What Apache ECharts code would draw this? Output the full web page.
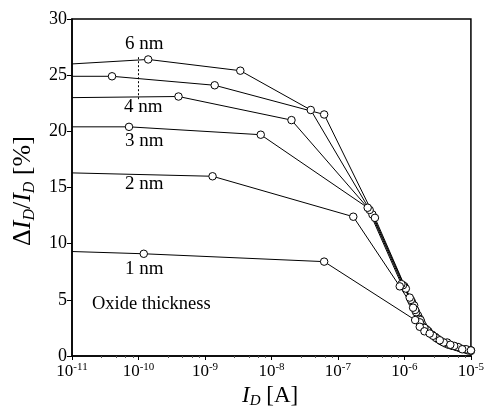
<!DOCTYPE html>
<html>
<head>
<meta charset="utf-8">
<script src="https://cdn.jsdelivr.net/npm/echarts@6/dist/echarts.min.js"></script>
<style>
  html, body { margin: 0; padding: 0; background: #fff; }
  #chart { width: 487px; height: 415px; }
</style>
</head>
<body>
<div id="chart"></div>
<script>
// oxide thickness curves, [I_D (A), dI/I (%)]
const nm6 = [[1e-11, 26.0], [1.4e-10, 26.4], [3.4e-9, 25.4], [3.9e-8, 21.9], [3.3e-7, 12.6], [1.0e-6, 6.2], [1.3e-6, 4.8], [1.6e-6, 3.6], [1.9e-6, 2.7], [2.6e-6, 1.9], [3.6e-6, 1.3], [5.2e-6, 0.9], [8.0e-6, 0.6], [1.0e-5, 0.5]];
const nm5 = [[1e-11, 24.9], [4.0e-11, 24.9], [1.4e-9, 24.1], [6.2e-8, 21.5], [3.6e-7, 12.3], [1.05e-6, 6.0], [1.4e-6, 4.5], [1.7e-6, 3.3], [2.1e-6, 2.4], [2.9e-6, 1.7], [4.2e-6, 1.1], [6.0e-6, 0.8], [9.0e-6, 0.5]];
const nm4 = [[1e-11, 23.0], [4.0e-10, 23.1], [2.0e-8, 21.0], [3.0e-7, 13.0], [9.5e-7, 6.3], [1.25e-6, 5.0], [1.5e-6, 3.9], [1.8e-6, 3.0], [2.3e-6, 2.2], [3.2e-6, 1.5], [4.6e-6, 1.0], [6.8e-6, 0.7], [1.0e-5, 0.45]];
const nm3 = [[1e-11, 20.4], [7.2e-11, 20.4], [6.9e-9, 19.7], [2.8e-7, 13.2], [9.0e-7, 6.4], [1.2e-6, 5.2], [1.45e-6, 4.1], [1.75e-6, 3.2], [2.2e-6, 2.3], [3.0e-6, 1.6], [4.4e-6, 1.2], [6.4e-6, 0.8]];
const nm2 = [[1e-11, 16.3], [1.3e-9, 16.0], [1.7e-7, 12.4], [8.5e-7, 6.2], [1.35e-6, 4.3], [1.7e-6, 3.0], [2.0e-6, 2.5], [2.7e-6, 1.8], [3.9e-6, 1.2], [5.6e-6, 0.9], [8.5e-6, 0.6]];
const nm1 = [[1e-11, 9.3], [1.2e-10, 9.1], [6.2e-8, 8.4], [1.45e-6, 3.2], [1.7e-6, 2.6], [2.0e-6, 2.2], [2.4e-6, 2.0], [3.4e-6, 1.4], [4.9e-6, 1.0], [7.4e-6, 0.6], [1.0e-5, 0.5]];
const curves = [nm6, nm5, nm4, nm3, nm2, nm1];
// dashed bracket between 4 nm and 6 nm
const bracket = [[1e-10, 26.6], [1e-10, 22.8]];
const yTicks = { min: 0, max: 30, interval: 5 };

const FONT = "Liberation Serif";

const chart = echarts.init(document.getElementById("chart"));

const lineSeries = curves.map((pts) => ({
  type: "line",
  // first point sits on the axis, no marker there
  data: pts.map((p, i) => (i === 0 ? { value: p, symbol: "none" } : p)),
  symbol: "circle",
  symbolSize: 7.5,
  showAllSymbol: true,
  lineStyle: { color: "#000", width: 1 },
  itemStyle: { color: "#fff", borderColor: "#000", borderWidth: 1 },
  z: 3,
}));

const label = (text, left, top, size) => ({
  type: "text",
  left,
  top,
  style: { text, font: size + "px " + FONT, fill: "#000" },
});

const option = {
  animation: false,
  backgroundColor: "#fff",
  grid: {
    left: 72,
    right: 13,
    top: 19,
    bottom: 59,
    show: true,
    borderColor: "#000",
    borderWidth: 1.5,
  },
  xAxis: {
    type: "log",
    logBase: 10,
    min: 1e-11,
    max: 1e-5,
    axisLine: { lineStyle: { color: "#000", width: 1.5 } },
    axisTick: { inside: false, length: 4, lineStyle: { color: "#000" } },
    minorTick: { show: true, length: 2, lineStyle: { color: "#555" } },
    splitLine: { show: false },
    axisLabel: {
      margin: 6,
      formatter: (v) => "{b|10}{e|" + Math.round(Math.log10(v)) + "}",
      rich: {
        b: { fontFamily: FONT, fontSize: 17, color: "#000" },
        e: { fontFamily: FONT, fontSize: 11, color: "#000", verticalAlign: "top", padding: [0, 0, 9, 0] },
      },
    },
  },
  yAxis: {
    type: "value",
    min: yTicks.min,
    max: yTicks.max,
    interval: yTicks.interval,
    axisLine: { show: true, lineStyle: { color: "#000", width: 1.5 } },
    axisTick: { show: true, length: 5, lineStyle: { color: "#000" } },
    splitLine: { show: false },
    axisLabel: { fontFamily: FONT, fontSize: 18, color: "#000", margin: 5 },
  },
  series: [
    ...lineSeries,
    {
      type: "line",
      data: bracket,
      symbol: "none",
      lineStyle: { color: "#000", width: 1, type: [2, 2] },
      z: 2,
    },
  ],
  graphic: [
    label("6 nm", 125, 35, 19),
    label("4 nm", 124, 98, 19),
    label("3 nm", 125, 132, 19),
    label("2 nm", 125, 175, 19),
    label("1 nm", 125, 260, 19),
    label("Oxide thickness", 92, 295, 18.5),
    {
      type: "text",
      left: 242,
      top: 384,
      style: {
        text: "{i|I}{s|D}{n| [A]}",
        rich: {
          i: { fontFamily: FONT, fontStyle: "italic", fontSize: 23, fill: "#000" },
          s: { fontFamily: FONT, fontStyle: "italic", fontSize: 15, fill: "#000", padding: [12, 0, 0, 0] },
          n: { fontFamily: FONT, fontSize: 23, fill: "#000" },
        },
      },
    },
    {
      type: "text",
      x: 8,
      y: 246,
      rotation: Math.PI / 2,
      style: {
        text: "{n|\u0394}{i|I}{s|D}{n|/}{i|I}{s|D}{n| [%]}",
        rich: {
          i: { fontFamily: FONT, fontStyle: "italic", fontSize: 26, fill: "#000" },
          s: { fontFamily: FONT, fontStyle: "italic", fontSize: 16, fill: "#000", padding: [14, 0, 0, 0] },
          n: { fontFamily: FONT, fontSize: 26, fill: "#000" },
        },
      },
    },
  ],
};

chart.setOption(option);
</script>
</body>
</html>
